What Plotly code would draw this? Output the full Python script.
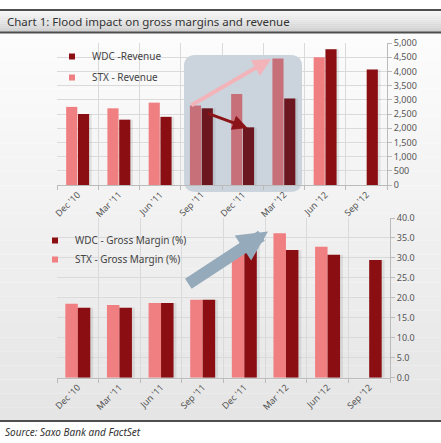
import plotly.graph_objects as go

# ---------------- data ----------------
quarters = ["Dec '10", "Mar '11", "Jun '11", "Sep '11", "Dec '11", "Mar '12", "Jun '12", "Sep '12"]
stx_revenue = [2750, 2700, 2900, 2800, 3200, 4450, 4500, None]
wdc_revenue = [2500, 2300, 2400, 2700, 2030, 3050, 4780, 4070]
stx_margin = [18.5, 18.2, 18.7, 19.5, 31.5, 36.2, 32.8, None]
wdc_margin = [17.5, 17.5, 18.7, 19.5, 32.8, 32.0, 30.8, 29.5]

W, H = 441, 443
FONT = "Noto Sans"

STX = "#F07F81"
WDC = "#8A0E12"
STX_MUTED = "#C8707A"
WDC_MUTED = "#6C1620"
highlight = [False, False, False, True, True, True, False, False]


def px(x):
    return x / W


def py(y):
    return 1 - y / H


fig = go.Figure()

wt = 0.27
wb = 0.30

# ---- shadows ----
fig.add_trace(go.Bar(x=quarters, y=wdc_revenue, width=wt + 0.06, offset=0.01,
                     marker=dict(color="rgba(90,90,90,0.13)", line=dict(width=0)),
                     showlegend=False, hoverinfo="skip", xaxis="x", yaxis="y"))
fig.add_trace(go.Bar(x=quarters, y=wdc_margin, width=wb + 0.06, offset=0.01,
                     marker=dict(color="rgba(90,90,90,0.13)", line=dict(width=0)),
                     showlegend=False, hoverinfo="skip", xaxis="x2", yaxis="y2"))

# ---- top: revenue ----
fig.add_trace(go.Bar(x=quarters, y=stx_revenue, width=wt, offset=-wt - 0.008,
                     marker=dict(color=[STX_MUTED if h else STX for h in highlight], line=dict(width=0)),
                     name="STX - Revenue", showlegend=False, xaxis="x", yaxis="y"))
fig.add_trace(go.Bar(x=quarters, y=wdc_revenue, width=wt, offset=0.008,
                     marker=dict(color=[WDC_MUTED if h else WDC for h in highlight], line=dict(width=0)),
                     name="WDC -Revenue", showlegend=False, xaxis="x", yaxis="y"))

# ---- bottom: gross margin ----
fig.add_trace(go.Bar(x=quarters, y=stx_margin, width=wb, offset=-wb,
                     marker=dict(color=STX, line=dict(width=0)),
                     name="STX - Gross Margin (%)", showlegend=False, xaxis="x2", yaxis="y2"))
fig.add_trace(go.Bar(x=quarters, y=wdc_margin, width=wb, offset=0,
                     marker=dict(color=WDC, line=dict(width=0)),
                     name="WDC - Gross Margin (%)", showlegend=False, xaxis="x2", yaxis="y2"))

# ---- legend proxies ----
for name, col, leg, ax, ay in [
    ("WDC -Revenue", WDC, "legend", "x", "y"),
    ("STX - Revenue", STX, "legend", "x", "y"),
    ("WDC - Gross Margin (%)", WDC, "legend2", "x2", "y2"),
    ("STX - Gross Margin (%)", STX, "legend2", "x2", "y2"),
]:
    fig.add_trace(go.Scatter(x=[None], y=[None], mode="markers", name=name,
                             marker=dict(symbol="square", size=6, color=col),
                             legend=leg, legendgroup=name, xaxis=ax, yaxis=ay))

# ---------------- shapes ----------------
shapes = []
top_px, bot_px = 33, 421
n = 28
c0, c1 = 252, 229
for i in range(n):
    y0 = top_px + (bot_px - top_px) * i / n
    y1 = top_px + (bot_px - top_px) * (i + 1) / n
    c = round(c0 + (c1 - c0) * i / (n - 1))
    shapes.append(dict(type="rect", xref="paper", yref="paper", x0=0, x1=1,
                       y0=py(y1), y1=py(y0), fillcolor=f"rgb({c},{c},{c})",
                       line=dict(width=0), layer="below"))
tb0, tb1 = 11, 32
m = 10
for i in range(m):
    y0 = tb0 + (tb1 - tb0) * i / m
    y1 = tb0 + (tb1 - tb0) * (i + 1) / m
    c = round(245 + (208 - 245) * i / (m - 1))
    shapes.append(dict(type="rect", xref="paper", yref="paper", x0=0, x1=1,
                       y0=py(y1), y1=py(y0), fillcolor=f"rgb({c},{c},{c})",
                       line=dict(width=0), layer="below"))
for yy, w in [(10, 2), (32.5, 2), (421, 2)]:
    shapes.append(dict(type="line", xref="paper", yref="paper", x0=0, x1=1,
                       y0=py(yy), y1=py(yy), line=dict(color="#4E4E4E", width=w), layer="below"))


def rounded(x0, x1, y0, y1, rx, ry):
    return (f"M {x0 + rx},{y0} L {x1 - rx},{y0} Q {x1},{y0} {x1},{y0 + ry} "
            f"L {x1},{y1 - ry} Q {x1},{y1} {x1 - rx},{y1} L {x0 + rx},{y1} "
            f"Q {x0},{y1} {x0},{y1 - ry} L {x0},{y0 + ry} Q {x0},{y0} {x0 + rx},{y0} Z")


BOX = "#CBD4DC"
# highlight box: paper version (visible below the axis), data version (covers gridlines)
shapes.append(dict(type="path", xref="paper", yref="paper",
                   path=rounded(px(184), px(302), py(192), py(55), 12 / W, 12 / H),
                   fillcolor=BOX, line=dict(width=0), layer="below"))
shapes.append(dict(type="path", xref="x", yref="y",
                   path=rounded(2.58, 5.44, -250, 4570, 0.29, 420),
                   fillcolor=BOX, line=dict(width=0), layer="between"))

# ---------------- annotations ----------------
annotations = [
    dict(text="Chart 1: Flood impact on gross margins and revenue", x=px(5), y=py(21.5),
         xref="paper", yref="paper", xanchor="left", yanchor="middle", showarrow=False,
         font=dict(family=FONT, size=11.5, color="#333333")),
    dict(text="<i>Source: Saxo Bank and FactSet</i>", x=px(3), y=py(432),
         xref="paper", yref="paper", xanchor="left", yanchor="middle", showarrow=False,
         font=dict(family=FONT, size=10, color="#333333")),
    dict(text="", x=4.69, y=4440, ax=2.72, ay=2780, xref="x", yref="y", axref="x", ayref="y",
         showarrow=True, arrowhead=2, arrowsize=0.9, arrowwidth=4, arrowcolor="#F2B3B9", standoff=0),
    dict(text="", x=4.12, y=2010, ax=3.12, ay=2540, xref="x", yref="y", axref="x", ayref="y",
         showarrow=True, arrowhead=2, arrowsize=1.0, arrowwidth=3, arrowcolor="#8A1418", standoff=0),
    dict(text="", x=4.57, y=36.6, ax=2.62, ay=23.3, xref="x2", yref="y2", axref="x2", ayref="y2",
         showarrow=True, arrowhead=2, arrowsize=0.5, arrowwidth=12, arrowcolor="#95AABB", standoff=0),
]

tickfont = dict(family=FONT, size=9, color="#555555")
common_x = dict(type="category", categoryorder="array", categoryarray=quarters,
                range=[-0.5, 7.5], tickson="boundaries", ticks="outside", ticklen=4,
                tickcolor="#BBBBBB", showgrid=True, gridcolor="#DADADA", gridwidth=1,
                showline=True, linecolor="#BBBBBB", linewidth=1, tickangle=-45,
                tickfont=tickfont, zeroline=False, fixedrange=True, automargin=False)
common_y = dict(side="right", showgrid=True, gridcolor="#DADADA", gridwidth=1,
                showline=True, linecolor="#BBBBBB", linewidth=1, ticks="outside",
                ticklen=4, tickcolor="#BBBBBB", tickfont=tickfont, zeroline=False,
                fixedrange=True, automargin=False)

fig.update_layout(
    width=W, height=H, autosize=False,
    margin=dict(l=0, r=0, t=0, b=0, pad=0, autoexpand=False),
    paper_bgcolor="white", plot_bgcolor="rgba(0,0,0,0)",
    barmode="overlay",
    showlegend=True,
    xaxis=dict(common_x, domain=[px(57), px(387)], anchor="y"),
    yaxis=dict(common_y, domain=[py(185), py(43)], range=[0, 5000], dtick=500,
               tickformat=",d", anchor="x"),
    xaxis2=dict(common_x, domain=[px(57), px(390)], anchor="y2"),
    yaxis2=dict(common_y, domain=[py(377.7), py(218)], range=[0, 40], dtick=5,
                tickformat=".1f", anchor="x2"),
    legend=dict(x=px(52), y=py(42), xanchor="left", yanchor="top",
                bgcolor="rgba(0,0,0,0)", font=dict(family=FONT, size=10, color="#444444"),
                traceorder="grouped", tracegroupgap=2, itemclick=False),
    legend2=dict(x=px(35), y=py(226), xanchor="left", yanchor="top",
                 bgcolor="rgba(0,0,0,0)", font=dict(family=FONT, size=10, color="#444444"),
                 traceorder="grouped", tracegroupgap=0, itemclick=False),
    shapes=shapes,
    annotations=annotations,
)

fig.write_html("out.html", config={"displayModeBar": False},
               post_script="document.body.style.margin='0';")
